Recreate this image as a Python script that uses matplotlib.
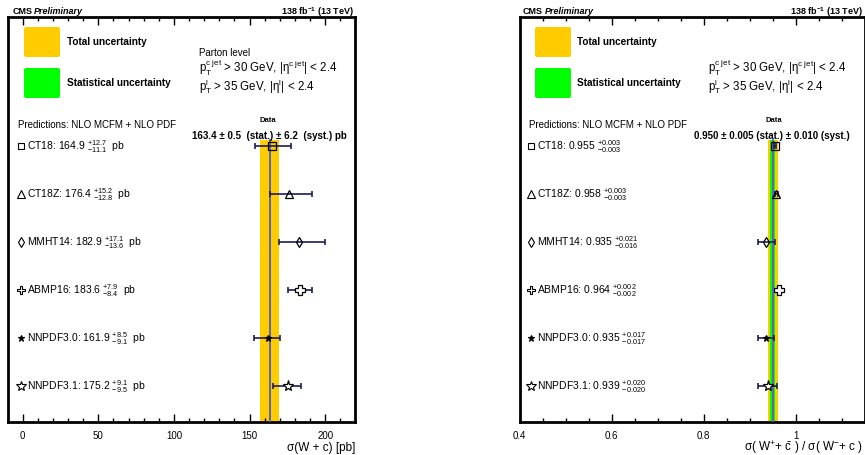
import matplotlib
matplotlib.use("Agg")
import matplotlib.pyplot as plt
from matplotlib.patches import FancyBboxPatch
from matplotlib.ticker import MultipleLocator
import matplotlib.transforms as mtrans

plt.rcParams['font.family'] = ['Liberation Sans', 'DejaVu Sans']
plt.rcParams['mathtext.fontset'] = 'custom'
plt.rcParams['mathtext.rm'] = 'Liberation Sans'
plt.rcParams['mathtext.it'] = 'Liberation Sans:italic'
plt.rcParams['mathtext.bf'] = 'Liberation Sans:bold'

# ---------------- data ----------------
pdf_names = ["CT18", "CT18Z", "MMHT14", "ABMP16", "NNPDF3.0", "NNPDF3.1"]

xs_pred = [164.9, 176.4, 182.9, 183.6, 161.9, 175.2]
xs_up = [12.7, 15.2, 17.1, 7.9, 8.5, 9.1]
xs_dn = [11.1, 12.8, 13.6, 8.4, 9.1, 9.5]
xs_data = 163.4
xs_stat = 0.5
xs_syst = 6.2

r_pred = [0.955, 0.958, 0.935, 0.964, 0.935, 0.939]
r_up = [0.003, 0.003, 0.021, 0.002, 0.017, 0.020]
r_dn = [0.003, 0.003, 0.016, 0.002, 0.017, 0.020]
r_data = 0.950
r_stat = 0.005
r_syst = 0.010

# ---------------- style ----------------
W, H = 865, 456
fig = plt.figure(figsize=(W / 100, H / 100), dpi=100)

YEL = '#ffcc00'
GRN = '#00ff00'
LINE = '#6a55cc'
EBAR = '#1c1c5c'

markers = [dict(marker='s', mfc='none', ms=5.5),
           dict(marker='^', mfc='none', ms=6),
           dict(marker='d', mfc='none', ms=5.5),
           dict(marker='P', mfc='white', ms=7),
           dict(marker='*', mfc='black', ms=5),
           dict(marker='*', mfc='white', ms=8)]

TOP, BOTTOM = 18, 423


def px(x, y):
    return x / W, 1 - y / H


def ftext(x, y, s, **kw):
    fig.text(*px(x, y), s, **kw)


def make_axes(left_px, right_px, xlim, major, minor):
    ax = fig.add_axes([left_px / W, 1 - BOTTOM / H, (right_px - left_px) / W,
                       (BOTTOM - TOP) / H])
    ax.set_xlim(*xlim)
    ax.set_ylim(-0.75, 7.6875)
    ax.set_yticks([])
    ax.xaxis.set_major_locator(MultipleLocator(major))
    ax.xaxis.set_minor_locator(MultipleLocator(minor))
    ax.tick_params(axis='x', which='both', direction='in', top=True,
                   labelsize=7, pad=6, width=1, color='black')
    ax.tick_params(axis='x', which='major', length=6)
    ax.tick_params(axis='x', which='minor', length=3)
    for sp in ax.spines.values():
        sp.set_linewidth(2)
    return ax


def draw_panel(ax, pred, up, dn, data, stat, syst):
    ys = list(range(len(pred) - 1, -1, -1))
    tot = (stat ** 2 + syst ** 2) ** 0.5
    band_top = ys[0] + 0.125
    ylo = -0.75
    ax.fill_betweenx([ylo, band_top], data - tot, data + tot, color=YEL, lw=0, zorder=1)
    ax.fill_betweenx([ylo, band_top], data - stat, data + stat, color=GRN, lw=0, zorder=2)
    ax.plot([data, data], [ylo, band_top], color=LINE, lw=1.3, zorder=3)
    for i, y in enumerate(ys):
        ax.errorbar([pred[i]], [y], xerr=[[dn[i]], [up[i]]], fmt='none',
                    ecolor=EBAR, elinewidth=1.2, capsize=2.2, capthick=1.2, zorder=4)
        ax.plot([pred[i]], [y], color='black', ls='none', mec='black', mew=0.9,
                zorder=5, **markers[i])
    return ys


def set_xlabel(ax, s):
    ax.set_xlabel(s, fontsize=8.5)
    lab = ax.xaxis.label
    lab.set_ha('right')
    lab.set_va('center')
    ax.xaxis.set_label_coords(1.0, -(448 - BOTTOM) / (BOTTOM - TOP))


# ---------------- left panel ----------------
axL = make_axes(7.6, 355.4, (-10, 220), 50, 10)
ysL = draw_panel(axL, xs_pred, xs_up, xs_dn, xs_data, xs_stat, xs_syst)
set_xlabel(axL, "σ(W + c) [pb]")

# ---------------- right panel ----------------
axR = make_axes(519.7, 864.7, (0.4, 1.15), 0.2, 0.05)
axR.xaxis.set_major_formatter(matplotlib.ticker.FuncFormatter(
    lambda v, p: "{:g}".format(round(v, 3))))
ysR = draw_panel(axR, r_pred, r_up, r_dn, r_data, r_stat, r_syst)
set_xlabel(axR, r"σ( W$\mathregular{^{+}}$+ $\mathregular{\bar{c}}$ ) / σ( W$\mathregular{^{-}}$+ c )")
axR.xaxis.set_label_coords((863 - 519.7) / 345, -(448 - BOTTOM) / (BOTTOM - TOP))

# ---------------- texts ----------------
for cms_x, right_edge in [(12.5, 354), (523, 863)]:
    ftext(cms_x, 12, "CMS", fontsize=6.5, fontweight='bold', va='center')
    ftext(cms_x + 21.5, 12, "Preliminary", fontsize=6.5, fontweight='bold',
          style='italic', va='center')
    ftext(right_edge, 12, r"138 fb$\mathbf{^{-1}}$ (13 TeV)", fontsize=6.5,
          fontweight='bold', ha='right', va='center')

# legend boxes
for x0, tx in [(24, 67), (535, 577)]:
    for (y0, col, lab) in [(28, YEL, "Total uncertainty"),
                           (69, GRN, "Statistical uncertainty")]:
        x_in = x0 / 100
        y_in = (H - y0 - 30) / 100
        fig.patches.append(FancyBboxPatch((x_in, y_in), 0.36, 0.30,
                                          boxstyle="round,pad=0,rounding_size=0.02",
                                          transform=fig.dpi_scale_trans,
                                          facecolor=col, edgecolor='none'))
        ftext(tx, y0 + 14, lab, fontsize=7.2, fontweight='bold', va='center')

# kinematic texts
ftext(199, 53, "Parton level", fontsize=7, va='center')
for xk in [199, 708]:
    ftext(xk, 67.5, r"p$\mathregular{_{T}^{c\ jet}}$ > 30 GeV, |η$\mathregular{^{c\ jet}}$| < 2.4",
          fontsize=8.3, va='center')
    ftext(xk, 86.5, r"p$\mathregular{_{T}^{l}}$ > 35 GeV, |η$\mathregular{^{l}}$| < 2.4",
          fontsize=8.3, va='center')

# predictions header
ftext(18, 125, "Predictions: NLO MCFM + NLO PDF", fontsize=7, va='center')
ftext(529, 125, "Predictions: NLO MCFM + NLO PDF", fontsize=7, va='center')

# data texts
ftext(268, 121, "Data", fontsize=5.5, fontweight='bold', ha='center', va='center')
ftext(269, 136, "163.4 ± 0.5  (stat.) ± 6.2  (syst.) pb",
      fontsize=7, fontweight='bold', ha='center', va='center')
ftext(774, 121, "Data", fontsize=5.5, fontweight='bold', ha='center', va='center')
ftext(772, 136, "0.950 ± 0.005 (stat.) ± 0.010 (syst.)",
      fontsize=7, fontweight='bold', ha='center', va='center')


# prediction labels
def pred_labels(ax, ys, pred, up, dn, mk_x, txt_x, fmt, unit):
    tr = mtrans.blended_transform_factory(ax.transAxes, ax.transData)
    for i, y in enumerate(ys):
        mk = dict(markers[i])
        mk['ms'] = mk['ms'] * 0.9
        ax.plot([mk_x], [y], transform=tr, clip_on=False, color='black',
                mec='black', mew=0.8, ls='none', zorder=6, **mk)
        s = "{}: {}".format(pdf_names[i], fmt.format(pred[i]))
        s += r" $\mathregular{^{+" + fmt.format(up[i]) + r"}_{-" + fmt.format(dn[i]) + r"}}$"
        if unit:
            s += "  " + unit
        ax.text(txt_x, y, s, transform=tr, fontsize=7.5, va='center', ha='left')


pred_labels(axL, ysL, xs_pred, xs_up, xs_dn, (21 - 7.6) / 347.8, (27 - 7.6) / 347.8,
            "{:.1f}", "pb")
pred_labels(axR, ysR, r_pred, r_up, r_dn, (531 - 519.7) / 345, (537 - 519.7) / 345,
            "{:.3f}", "")

fig.savefig("out.png", dpi=100)
